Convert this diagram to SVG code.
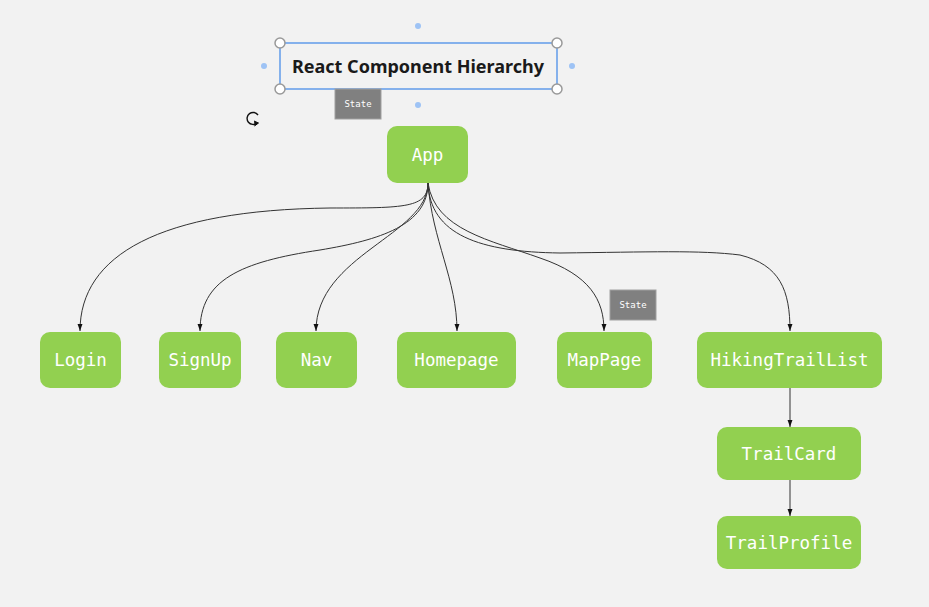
<svg xmlns="http://www.w3.org/2000/svg" width="929" height="607" viewBox="0 0 929 607">
<defs>
<style>
.node rect{fill:#92d050;}
.node text{fill:#ffffff;font-family:"DejaVu Sans Mono","Liberation Mono",monospace;font-size:17.5px;text-anchor:middle;dominant-baseline:central;}
.edge{fill:none;stroke:#333333;stroke-width:1;marker-end:url(#arr);}
.tag rect{fill:#808080;stroke:#a0a0a0;stroke-width:1;}
.tag text{fill:#ffffff;font-family:"DejaVu Sans Mono",monospace;font-size:9px;text-anchor:middle;dominant-baseline:central;}
.handle{fill:#ffffff;stroke:#999999;stroke-width:1.5;}
.dot{fill:#9ec3f5;}
</style>
<marker id="arr" viewBox="0 0 10 10" refX="10" refY="5" markerWidth="7" markerHeight="7" markerUnits="userSpaceOnUse" orient="auto">
<path d="M0,1.5 L10,5 L0,8.5 z" fill="#111111"/>
</marker>
</defs>
<rect x="0" y="0" width="929" height="607" fill="#f2f2f2"/>

<g id="connectors">
<path class="edge" d="M428,183 C428,208 405,208 330,208 C160,210 80,255 80,331"/>
<path class="edge" d="M428,183 C428,225 380,240 320,250 C240,262 200,280 200,331"/>
<path class="edge" d="M428,183 C428,235 316,255 316,331"/>
<path class="edge" d="M428,183 C432,240 457,280 457,331"/>
<path class="edge" d="M428,183 C435,230 490,240 540,258 C590,275 604,300 604,331"/>
<path class="edge" d="M428,183 C430,235 480,252 560,253 C650,252 700,250 740,255 C780,265 790,290 790,331"/>
<path class="edge" d="M790,388 L790,427"/>
<path class="edge" d="M790,480 L790,516"/>
</g>

<g id="title">
<rect x="280" y="43" width="277" height="46" fill="none" stroke="#4a8ee8" stroke-width="1.3"/>
<text x="418" y="66" font-family="'Noto Sans','Open Sans',sans-serif" font-weight="bold" font-size="18" fill="#1a1a1a" text-anchor="middle" dominant-baseline="central">React Component Hierarchy</text>
<circle class="handle" cx="280" cy="43" r="5"/>
<circle class="handle" cx="557" cy="43" r="5"/>
<circle class="handle" cx="280" cy="89" r="5"/>
<circle class="handle" cx="557" cy="89" r="5"/>
<circle class="dot" cx="418" cy="26" r="3"/>
<circle class="dot" cx="418" cy="105" r="3"/>
<circle class="dot" cx="264" cy="66" r="3"/>
<circle class="dot" cx="572" cy="66" r="3"/>
<g id="rotate" fill="none" stroke="#111111" stroke-width="1.4">
<path d="M257,123 A6,6 0 1 1 258,115"/>
<path d="M254,121 L258.5,123 L254.5,126" fill="#111111" stroke-width="1"/>
</g>
</g>

<g id="state1" class="tag">
<rect x="335" y="89" width="46" height="30"/>
<text x="358" y="104">State</text>
</g>
<g id="state2" class="tag">
<rect x="610" y="290" width="46" height="30"/>
<text x="633" y="305">State</text>
</g>

<g id="app" class="node"><rect x="387" y="126" width="81" height="57" rx="10"/><text x="427.5" y="154.5">App</text></g>
<g id="login" class="node"><rect x="40" y="332" width="81" height="56" rx="10"/><text x="80.5" y="360">Login</text></g>
<g id="signup" class="node"><rect x="159" y="332" width="82" height="56" rx="10"/><text x="200" y="360">SignUp</text></g>
<g id="nav" class="node"><rect x="276" y="332" width="81" height="56" rx="10"/><text x="316.5" y="360">Nav</text></g>
<g id="homepage" class="node"><rect x="397" y="332" width="119" height="56" rx="10"/><text x="456.5" y="360">Homepage</text></g>
<g id="mappage" class="node"><rect x="557" y="332" width="95" height="56" rx="10"/><text x="604.5" y="360">MapPage</text></g>
<g id="hikingtraillist" class="node"><rect x="697" y="332" width="185" height="56" rx="10"/><text x="789.5" y="360">HikingTrailList</text></g>
<g id="trailcard" class="node"><rect x="717" y="427" width="144" height="53" rx="10"/><text x="789" y="453.5">TrailCard</text></g>
<g id="trailprofile" class="node"><rect x="717" y="516" width="144" height="53" rx="10"/><text x="789" y="542.5">TrailProfile</text></g>
</svg>
